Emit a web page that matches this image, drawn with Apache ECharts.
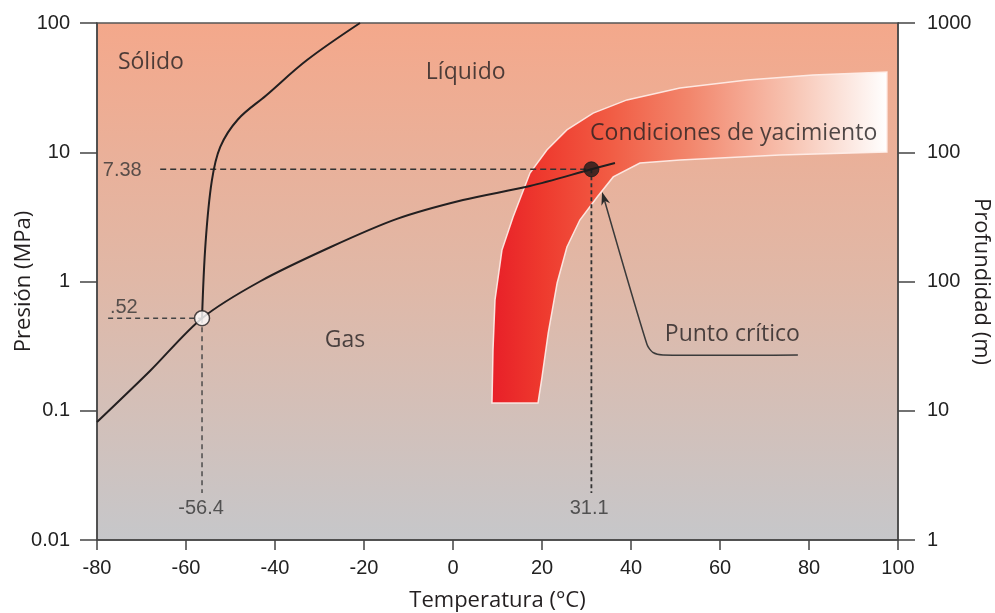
<!DOCTYPE html>
<html>
<head>
<meta charset="utf-8">
<script src="https://cdn.jsdelivr.net/npm/echarts@6/dist/echarts.min.js"></script>
<style>html,body{margin:0;padding:0;background:#fff}#chart{width:995px;height:613px}</style>
</head>
<body>
<div id="chart"></div>
<script>
// ---- data ----
const xTicks = [-80, -60, -40, -20, 0, 20, 40, 60, 80, 100];
const leftTickLabels = ['0.01', '0.1', '1', '10', '100'];
const rightTickLabels = ['1', '10', '100', '100', '1000'];

const triplePoint = [-56.4, 0.52];
const criticalPoint = [31.1, 7.38];

// sublimation + vaporization curve (T °C, P MPa)
const vaporCurve = [
  [-80, 0.0818], [-68.1, 0.203], [-56.4, 0.52], [-43.4, 1.0], [-27.6, 1.84],
  [-12.6, 3.05], [2.25, 4.27], [17.3, 5.48], [31.1, 7.38], [36.4, 8.26]
];
// melting curve
const meltCurve = [
  [-56.4, 0.52], [-55.6, 2.0], [-54.2, 6.0], [-52.3, 11.0], [-48.3, 18.0],
  [-42.0, 27.5], [-32.8, 51.7], [-20.9, 100]
];
// reservoir-conditions band outline
const bandOuter = [
  [8.76, 0.1148], [8.99, 0.295], [9.44, 0.719], [11.0, 1.75], [13.5, 3.16],
  [17.3, 6.91], [21.1, 10.4], [25.6, 14.9], [31.5, 20.1], [39.1, 25.4],
  [51.0, 31.4], [66.1, 36.2], [80.9, 39.6], [97.5, 41.8]
];
const bandInner = [
  [97.5, 10.05], [73.5, 9.52], [51.0, 8.71], [42.0, 8.26], [36.0, 6.44],
  [32.4, 4.51], [28.5, 2.99], [25.6, 1.85], [23.4, 0.973], [21.4, 0.40],
  [20.0, 0.182], [19.1, 0.1148]
];
// dashed guide lines
const guide738 = [[-65.8, 7.38], [31.1, 7.38]];
const guide311 = [[31.1, 7.38], [31.1, 0.0231]];
const guide052 = [[-77.5, 0.52], [-56.4, 0.52]];
const guide564 = [[-56.4, 0.52], [-56.4, 0.0231]];
// arrow to critical point
const arrowPath = [[77.5, 0.27], [47.2, 0.27], [44.9, 0.283], [43.6, 0.325], [33.5, 4.92]];

// text annotations
const regionLabels = [
  {name: 'Sólido', value: [-75.3, 49.9]},
  {name: 'Líquido', value: [-6.1, 41.8]},
  {name: 'Gas', value: [-28.8, 0.352]},
  {name: 'Condiciones de yacimiento', value: [30.8, 14.1]},
  {name: 'Punto crítico', value: [47.6, 0.386]}
];
const valueLabels = [
  {name: '7.38', value: [-78.7, 7.2], align: 'left'},
  {name: '.52', value: [-77.1, 0.635], align: 'left'},
  {name: '-56.4', value: [-56.6, 0.0174], align: 'center'},
  {name: '31.1', value: [30.6, 0.0174], align: 'center'}
];

// ---- chart ----
const chart = echarts.init(document.getElementById('chart'));
const textColor = '#231f20';
const humanist = '"Open Sans", "Noto Sans", sans-serif';
const arial = '"Liberation Sans", Arial, sans-serif';

const bandPolygon = bandOuter.concat(bandInner);

chart.setOption({
  animation: false,
  backgroundColor: '#ffffff',
  grid: {
    left: 97, right: 97, top: 23, bottom: 73,
    containLabel: false, outerBoundsMode: 'none',
    show: true,
    borderColor: '#555', borderWidth: 1.5,
    backgroundColor: {
      type: 'linear', x: 0, y: 0, x2: 0, y2: 1,
      colorStops: [
        {offset: 0, color: '#f4a88b'},
        {offset: 0.5, color: '#e0b8a7'},
        {offset: 1, color: '#c6c7ca'}
      ]
    }
  },
  xAxis: {
    type: 'value', min: xTicks[0], max: xTicks[xTicks.length - 1], interval: 20,
    name: 'Temperatura (°C)', nameLocation: 'middle', nameGap: 50, nameMoveOverlap: false,
    nameTextStyle: {fontFamily: humanist, fontSize: 22, color: textColor},
    axisLine: {onZero: false, lineStyle: {color: '#444', width: 1.5}},
    axisTick: {show: true, inside: false, length: 10, lineStyle: {color: '#444', width: 1.5}},
    axisLabel: {margin: 18, fontFamily: arial, fontSize: 20, color: '#222'},
    splitLine: {show: false}
  },
  yAxis: [
    {
      type: 'log', logBase: 10, min: 0.01, max: 100, position: 'left',
      name: 'Presión (MPa)', nameLocation: 'middle', nameGap: 62, nameMoveOverlap: false,
      nameTextStyle: {fontFamily: humanist, fontSize: 22, color: textColor},
      axisLine: {show: true, onZero: false, lineStyle: {color: '#444', width: 1.5}},
      axisTick: {show: true, length: 17, lineStyle: {color: '#444', width: 1.5}},
      axisLabel: {margin: 27, fontFamily: arial, fontSize: 20, color: '#222',
        formatter: (v, i) => leftTickLabels[i]},
      splitLine: {show: false}
    },
    {
      type: 'log', logBase: 10, min: 0.01, max: 100, position: 'right',
      name: 'Profundidad (m)', nameLocation: 'middle', nameGap: 72, nameRotate: -90,
      nameMoveOverlap: false,
      nameTextStyle: {fontFamily: humanist, fontSize: 22, color: textColor},
      axisLine: {show: true, onZero: false, lineStyle: {color: '#444', width: 1.5}},
      axisTick: {show: true, length: 17, lineStyle: {color: '#444', width: 1.5}},
      axisLabel: {margin: 29, fontFamily: arial, fontSize: 20, color: '#222',
        formatter: (v, i) => rightTickLabels[i]},
      splitLine: {show: false}
    }
  ],
  series: [
    {
      type: 'custom', name: 'band', z: 1,
      data: [0],
      renderItem: function (params, api) {
        const pts = bandPolygon.map(p => api.coord(p));
        return {
          type: 'polygon',
          shape: {points: pts},
          style: {
            fill: {
              type: 'linear', x: 0, y: 0, x2: 1, y2: 0,
              colorStops: [
                {offset: 0, color: '#e81f28'},
                {offset: 0.13, color: '#ee3a2e'},
                {offset: 0.3, color: '#f15c44'},
                {offset: 0.5, color: '#f2866c'},
                {offset: 0.75, color: '#f7c2b0'},
                {offset: 1, color: '#ffffff'}
              ]
            },
            stroke: 'rgba(255,240,235,0.9)', lineWidth: 1.5
          }
        };
      }
    },
    {
      type: 'line', name: 'g738', data: guide738, showSymbol: false, z: 3,
      lineStyle: {color: '#333', width: 1.6, type: [6, 4]}
    },
    {
      type: 'line', name: 'g311', data: guide311, showSymbol: false, z: 3,
      lineStyle: {color: '#333', width: 1.8, type: [4, 3]}
    },
    {
      type: 'line', name: 'g052', data: guide052, showSymbol: false, z: 3,
      lineStyle: {color: '#444', width: 1.4, type: [5, 4]}
    },
    {
      type: 'line', name: 'g564', data: guide564, showSymbol: false, z: 3,
      lineStyle: {color: '#444', width: 1.4, type: [5, 4]}
    },
    {
      type: 'line', name: 'vapor', data: vaporCurve, showSymbol: false,
      smooth: 0.3, z: 4,
      lineStyle: {color: '#231f20', width: 2}
    },
    {
      type: 'line', name: 'melt', data: meltCurve, showSymbol: false,
      smooth: 0.35, z: 4,
      lineStyle: {color: '#231f20', width: 2}
    },
    {
      type: 'custom', name: 'arrow', z: 4,
      data: [0],
      renderItem: function (params, api) {
        const pts = arrowPath.map(p => api.coord(p));
        const n = pts.length;
        const tip = pts[n - 1], prev = pts[n - 2];
        const dx = tip[0] - prev[0], dy = tip[1] - prev[1];
        const len = Math.sqrt(dx * dx + dy * dy);
        const ux = dx / len, uy = dy / len;
        const hl = 13, hw = 4.5;
        const base = [tip[0] - ux * hl, tip[1] - uy * hl];
        const head = [
          tip,
          [base[0] - uy * hw, base[1] + ux * hw],
          [tip[0] - ux * hl * 0.7, tip[1] - uy * hl * 0.7],
          [base[0] + uy * hw, base[1] - ux * hw]
        ];
        const linePts = pts.slice(0, n - 1).concat([[tip[0] - ux * 8, tip[1] - uy * 8]]);
        return {
          type: 'group',
          children: [
            {type: 'polyline', shape: {points: linePts, smooth: 0.25},
              style: {stroke: '#3a3a3a', lineWidth: 1.5, fill: null}},
            {type: 'polygon', shape: {points: head}, style: {fill: '#2a2a2a'}}
          ]
        };
      }
    },
    {
      type: 'scatter', name: 'points', z: 5,
      data: [
        {value: triplePoint, itemStyle: {color: '#ffffff', borderColor: '#231f20', borderWidth: 1.5}},
        {value: criticalPoint, itemStyle: {color: '#1a1a1a', borderColor: '#1a1a1a', borderWidth: 1}}
      ],
      symbolSize: 15
    },
    {
      type: 'scatter', name: 'regionLabels', z: 6, symbolSize: 0, silent: true,
      data: regionLabels,
      label: {show: true, position: 'right', distance: 0, formatter: '{b}',
        fontFamily: humanist, fontSize: 23, color: textColor}
    },
    {
      type: 'scatter', name: 'valueLabels', z: 6, symbolSize: 0, silent: true,
      data: valueLabels.map(d => ({
        name: d.name, value: d.value,
        label: {position: d.align === 'left' ? 'right' : 'inside', distance: 0}
      })),
      label: {show: true, formatter: '{b}', fontFamily: arial, fontSize: 20, color: '#333'}
    }
  ]
});
</script>
</body>
</html>
